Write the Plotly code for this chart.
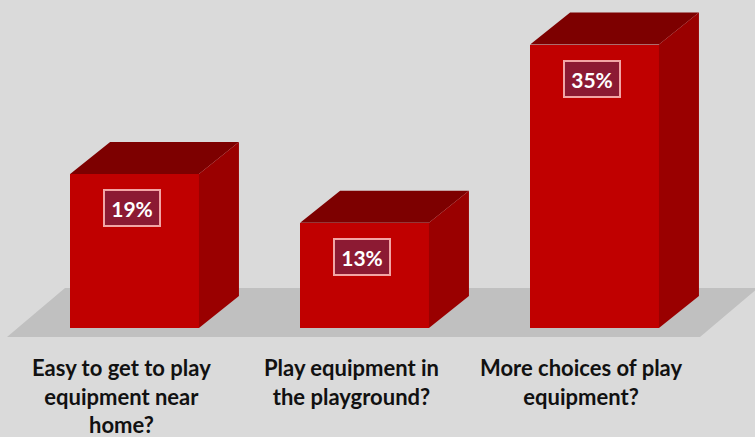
import plotly.graph_objects as go

# Survey results
categories = [
    "Easy to get to play<br>equipment near<br>home?",
    "Play equipment in<br>the playground?",
    "More choices of play<br>equipment?",
]
values = [19, 13, 35]
value_labels = ["19%", "13%", "35%"]

# Colours
BG = "#dadada"
FLOOR = "#c0c0c0"
FRONT = "#c00000"
SIDE = "#9a0000"
TOP = "#7d0000"

# Axis geometry (x in category units, y in percent)
X_RANGE = [-0.585, -0.585 + 755 / 230]
Y_RANGE = [-109 / 8.1, 328 / 8.1]
BAR_W = 0.56
DX = 40 / 230          # depth offset of the 3D faces, x units
DY = 32 / 8.1          # depth offset of the 3D faces, y units

fig = go.Figure()

xs = list(range(len(categories)))

# Front faces
fig.add_trace(go.Bar(
    x=xs, y=values, width=BAR_W, marker=dict(color=FRONT, line=dict(width=0)),
    hoverinfo="skip", showlegend=False,
))

# Top and side faces
for i, v in zip(xs, values):
    l, r = i - BAR_W / 2, i + BAR_W / 2
    fig.add_trace(go.Scatter(
        x=[l, r, r + DX, l + DX, l], y=[v, v, v + DY, v + DY, v],
        fill="toself", fillcolor=TOP, mode="lines", line=dict(width=0),
        hoverinfo="skip", showlegend=False,
    ))
    fig.add_trace(go.Scatter(
        x=[r, r + DX, r + DX, r, r], y=[0, DY, v + DY, v, 0],
        fill="toself", fillcolor=SIDE, mode="lines", line=dict(width=0),
        hoverinfo="skip", showlegend=False,
    ))

# Floor under the bars
fl_front, fl_back = -9 / 8.1, 40 / 8.1
fl_l, fl_r = -0.585 + 7 / 230, -0.585 + 700 / 230
fl_dx = 58 / 230
fig.add_shape(
    type="path", layer="below", line=dict(width=0), fillcolor=FLOOR,
    path=(f"M {fl_l},{fl_front} L {fl_r},{fl_front} "
          f"L {fl_r + fl_dx},{fl_back} L {fl_l + fl_dx},{fl_back} Z"),
)

# Value boxes on the front faces
for i, v, t in zip(xs, values, value_labels):
    fig.add_annotation(
        x=i - 0.01, y=v, yshift=-34, text=f"<b>{t}</b>", showarrow=False,
        font=dict(family="Lato", size=21, color="white"),
        bgcolor="#8c1a33", bordercolor="#f2a5a5", borderwidth=2, borderpad=0,
        width=54, height=34, xanchor="center", yanchor="middle",
    )

# Category labels
for i, c in zip(xs, categories):
    fig.add_annotation(
        x=i - 0.057, y=-2.95, text=f"<b>{c}</b>", showarrow=False,
        font=dict(family="Lato", size=22, color="#111111"),
        xanchor="center", yanchor="top", align="center",
    )

fig.update_layout(
    width=755, height=437, margin=dict(l=0, r=0, t=0, b=0),
    paper_bgcolor=BG, plot_bgcolor=BG,
    xaxis=dict(range=X_RANGE, visible=False, fixedrange=True),
    yaxis=dict(range=Y_RANGE, visible=False, fixedrange=True),
    bargap=0,
)

fig.write_html("out.html")
